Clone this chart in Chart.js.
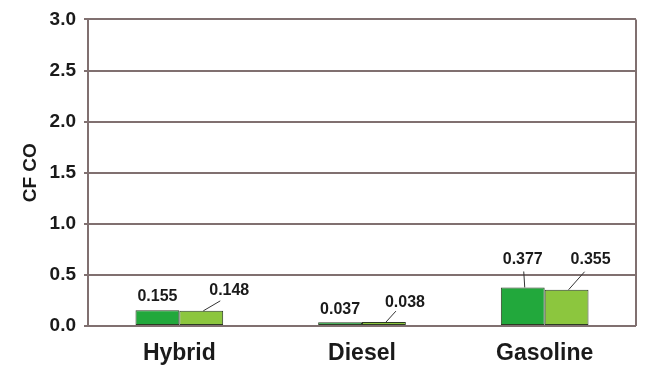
<!DOCTYPE html>
<html>
<head>
<meta charset="utf-8">
<script src="https://cdn.jsdelivr.net/npm/chart.js@4.4.0/dist/chart.umd.min.js"></script>
<style>
  html,body{margin:0;padding:0;background:#fff;}
  #wrap{width:658px;height:369px;position:relative;}
</style>
</head>
<body>
<div id="wrap"><canvas id="chart" width="658" height="369"></canvas></div>
<script>
const categories=['Hybrid','Diesel','Gasoline'];
const seriesA=[0.155,0.037,0.377];
const seriesB=[0.148,0.038,0.355];
const yTicks=[0,0.5,1.0,1.5,2.0,2.5,3.0];

const fontFamily='"Liberation Sans", Arial, sans-serif';

// label placement relative to bar top: [dx, dy, leader end dx, leader end dy] (leader null = none)
const labelPlace=[
    [[0,-14,null],[0,-13,null],[0,-28,[1,12]]],
    [[28,-20,[-9,10]],[21,-20,[-9,9]],[24,-30,[-6,12]]]
];

const valueLabels={
    id:'valueLabels',
    afterDatasetsDraw(chart){
        const ctx=chart.ctx;
        ctx.save();
        ctx.font='bold 16px '+fontFamily;
        ctx.fillStyle='#1a1a1a';
        ctx.textAlign='center';
        ctx.textBaseline='middle';
        chart.data.datasets.forEach((ds,di)=>{
            chart.getDatasetMeta(di).data.forEach((bar,i)=>{
                const p=labelPlace[di][i];
                const lx=bar.x+p[0], ly=bar.y+p[1];
                if(p[2]){
                    ctx.strokeStyle='#333';
                    ctx.lineWidth=1;
                    ctx.beginPath();
                    ctx.moveTo(bar.x+2,bar.y);
                    ctx.lineTo(lx+p[2][0],ly+p[2][1]);
                    ctx.stroke();
                }
                ctx.fillText(ds.data[i].toFixed(3),lx,ly);
            });
        });
        ctx.restore();
    }
};

// right edge of the plot box
const frame={
    id:'frame',
    beforeDatasetsDraw(chart){
        const a=chart.chartArea, ctx=chart.ctx;
        ctx.save();
        ctx.strokeStyle='#807070';
        ctx.lineWidth=2;
        ctx.beginPath();
        ctx.moveTo(a.right,a.top);
        ctx.lineTo(a.right,a.bottom);
        ctx.stroke();
        ctx.restore();
    }
};

let chart=document.getElementById("chart");

new Chart(chart,{
    type:"bar",
    data:{
        labels:categories,
        datasets:[
            {
                data:seriesA,
                backgroundColor:'#22a83c',
                borderColor:'#2c3b24',
                borderWidth:1,
                borderSkipped:false
            },
            {
                data:seriesB,
                backgroundColor:'#8cc63e',
                borderColor:'#2c3b24',
                borderWidth:1,
                borderSkipped:false
            }
        ]
    },
    options:{
        responsive:false,
        animation:false,
        devicePixelRatio:1,
        layout:{padding:{top:18,right:22,left:19,bottom:0}},
        plugins:{
            legend:{display:false},
            tooltip:{enabled:false}
        },
        datasets:{
            bar:{categoryPercentage:0.48,barPercentage:1.0}
        },
        scales:{
            x:{
                grid:{display:false},
                border:{display:false},
                ticks:{
                    color:'#1a1a1a',
                    padding:6,
                    maxRotation:0,
                    minRotation:0,
                    font:{family:fontFamily,size:23,weight:'bold'}
                },
                afterFit(scale){scale.height=43;}
            },
            y:{
                min:0,
                max:3,
                afterBuildTicks(scale){scale.ticks=yTicks.map(v=>({value:v}));},
                grid:{color:'#807070',lineWidth:2,tickLength:4,drawTicks:true},
                border:{color:'#807070',width:2},
                ticks:{
                    color:'#1a1a1a',
                    padding:8,
                    callback:v=>v.toFixed(1),
                    font:{family:fontFamily,size:19,weight:'bold'}
                },
                title:{
                    display:true,
                    text:'CF CO',
                    color:'#1a1a1a',
                    padding:0,
                    font:{family:fontFamily,size:19,weight:'bold'}
                },
                afterFit(scale){scale.width=69;}
            }
        }
    },
    plugins:[frame,valueLabels]
});
</script>
</body>
</html>
